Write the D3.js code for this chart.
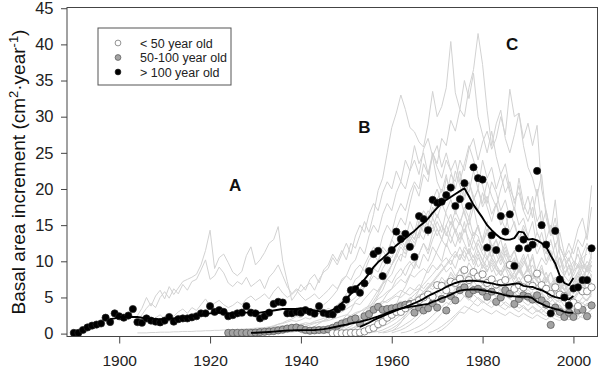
<!DOCTYPE html>
<html><head><meta charset="utf-8">
<script src="https://cdn.jsdelivr.net/npm/d3@7"></script>
<style>body{margin:0;background:#fff} svg{display:block;font-family:Arial,"Liberation Sans",sans-serif}</style>
</head><body><svg id="chart" width="600" height="373"></svg>
<script>
// ---------- data ----------
// class mean basal area increment (dots), one value per year
const oldStart = 1890; // > 100 year old
const oldValues = [0.1,0.1,0.5,0.85,1.1,1.25,1.4,2.2,1.6,2.8,
 2.4,2.2,2.5,3.4,1.6,1.5,2.1,1.8,1.65,1.55,
 1.8,2.3,1.65,2.0,2.1,2.1,2.25,2.4,2.8,2.8,
 3.8,3.0,3.25,3.0,2.4,2.55,2.8,2.9,3.8,2.9,
 2.8,2.1,2.4,2.9,4.1,4.4,4.3,2.8,2.8,3.0,
 2.9,3.25,3.0,2.75,3.8,2.85,2.7,2.65,3.35,3.7,
 4.7,6.0,6.15,5.65,6.95,8.65,11.0,11.45,7.95,10.15,
 11.55,14.1,13.1,13.8,12.0,10.6,16.25,15.85,14.3,18.5,
 18.1,18.25,19.15,20.2,17.65,18.6,20.8,17.65,23.0,21.5,
 21.3,11.9,13.6,11.55,16.25,14.1,16.5,9.35,11.8,13.0,
 11.8,12.3,22.5,15.0,12.3,2.8,14.2,7.5,5.0,3.9,
 6.25,6.4,7.4,7.4,11.8];
const midStart = 1924; // 50-100 year old
const midValues = [0.1,0.1,0.1,0.1,0.1,0.1,0.15,0.2,0.25,0.3,
 0.35,0.45,0.55,0.7,0.8,0.85,0.7,0.5,0.4,0.45,
 0.5,0.5,0.6,0.8,1.1,1.4,1.6,1.9,2.1,1.4,
 2.4,2.7,3.3,3.7,3.3,3.4,3.5,3.6,3.8,4.0,
 4.1,2.9,3.6,3.2,3.5,4.2,3.6,4.8,3.2,5.2,
 4.6,6.0,6.4,5.5,6.0,6.2,5.8,5.1,5.8,4.4,
 5.0,6.0,5.5,4.1,4.8,5.3,5.1,4.7,5.3,4.6,
 4.0,1.2,3.6,3.0,2.3,2.9,2.3,3.2,3.3,2.4,3.9];
const youngStart = 1947; // < 50 year old
const youngValues = [0.05,0.05,0.05,0.05,0.1,0.1,0.15,0.3,0.6,0.8,
 1.3,1.6,2.2,2.6,3.0,3.0,3.5,3.9,4.2,4.6,
 5.0,5.4,5.1,6.7,6.6,6.0,7.2,7.0,7.6,8.8,
 7.4,8.5,7.9,8.2,7.0,7.5,6.8,7.0,7.4,9.5,
 6.2,6.7,6.4,7.6,6.6,8.3,6.7,6.2,5.5,6.4,
 5.4,5.2,4.5,4.3,3.8,5.85,5.85,6.4];

// smoothed class curves
const oldCurveStart = 1898;
const oldCurve = [2.0,2.1,2.3,2.3,2.3,2.3,2.3,2.2,2.1,2.1,
 2.0,2.0,2.0,2.1,2.1,2.2,2.2,2.3,2.4,2.5,
 2.6,2.7,2.8,2.9,2.9,2.9,2.8,2.8,2.8,2.9,
 2.9,2.9,2.9,2.9,3.0,3.1,3.2,3.3,3.4,3.4,
 3.4,3.4,3.5,3.4,3.3,3.2,3.1,3.0,3.0,3.3,
 3.6,4.2,4.8,5.5,6.3,6.9,7.5,8.3,9.2,9.9,
 10.4,11.0,11.6,12.2,12.7,13.2,13.7,14.2,14.8,15.3,
 15.9,16.7,17.4,18.0,18.5,18.9,19.3,19.7,20.1,19.0,
 17.8,16.9,16.0,15.0,14.3,13.7,13.2,13.0,13.0,13.2,
 14.1,14.0,13.0,13.1,12.9,12.5,12.0,10.8,9.7,8.0,
 7.0,6.7,7.7];
const midCurveStart = 1929;
const midCurve = [0.1,0.12,0.15,0.18,0.22,0.27,0.33,0.38,0.42,0.45,
 0.47,0.48,0.48,0.48,0.5,0.55,0.62,0.72,0.85,0.98,
 1.12,1.25,1.4,1.52,1.63,1.8,1.98,2.17,2.37,2.6,
 2.85,3.1,3.3,3.45,3.6,3.7,3.8,3.9,4.0,4.1,
 4.4,4.6,4.9,5.1,5.4,5.7,5.95,6.05,6.1,6.1,
 6.1,6.0,5.9,5.75,5.65,5.5,5.3,5.2,5.15,5.1,
 5.1,5.1,4.9,4.4,4.1,3.8,3.6,3.4,3.25,3.0,
 2.88,2.9];
const youngCurveStart = 1953;
const youngCurve = [0.94,1.2,1.5,1.85,2.15,2.4,2.7,2.95,3.2,3.45,
 3.7,3.95,4.2,4.5,4.8,5.2,5.5,5.8,6.1,6.45,
 6.75,7.0,7.2,7.26,7.3,7.3,7.26,7.2,7.05,6.94,
 6.8,6.7,6.7,6.8,6.9,6.94,6.6,6.5,6.45,6.2,
 6.0,5.7,5.3,5.05,4.9,4.85,4.73,5.2];

// individual trees (grey lines)
const tree01 = [2.5,3.5,5.0,3.8,5.2,6.0,4.8,6.5,5.4,6.3,7.2,7.5,7.8,8.2,9.5,11.5,14.3,9.0,10.5,11.0,
 9.8,8.5,8.0,8.6,10.8,12.0,9.5,10.2,11.2,12.5,13.0,14.8,10.0,7.2,4.6,5.5,6.8,6.0,7.5,8.2,
 7.0,8.8,9.5,11.0,10.0,11.5,10.2,12.5,11.8,13.6,15.5,14.0,16.5,19.8,21.5,25.0,28.5,30.5,33.0,31.0,
 28.5,27.9,26.5,25.8,29.0,33.5,30.0,31.4,34.0,40.4,33.3,31.0,35.0,32.5,36.0,30.0,27.5,25.0,28.0,24.5,
 22.0,23.5,20.0,18.5,19.5,17.0,15.5,17.5,14.0,12.5,13.0,11.0,9.5,10.5,8.5,9.0,10.0,9.5,8.0,9.0,10.5];
const tree02 = [1.8,2.6,3.5,4.2,3.6,5.0,5.8,4.9,6.2,5.5,6.8,6.0,7.2,7.5,8.8,10.2,7.5,8.0,9.2,8.4,
 7.0,6.5,7.2,6.8,7.8,6.5,7.0,7.5,6.2,7.8,8.5,9.5,8.0,6.5,5.5,6.2,5.8,6.5,7.0,6.0,
 7.5,8.5,9.0,10.5,9.5,11.0,12.5,11.0,13.5,15.0,14.0,16.5,18.0,17.0,19.5,21.0,20.0,22.5,21.0,24.0,
 22.5,26.0,23.5,25.0,22.0,24.5,21.0,19.5,22.0,18.5,17.0,19.0,16.5,15.0,17.5,14.5,13.0,15.5,12.0,11.5,
 13.0,10.5,9.0,10.0,8.5,9.5,11.0,8.0,9.0,10.5,9.5,11.0,10.0,12.0,10.5,11.5,10.0,9.0,10.5,11.0];
const tree03 = [0.1,0.1,0.1,0.15,0.15,0.2,0.2,0.2,0.25,0.25,0.3,0.3,0.3,0.35,0.35,0.4,0.4,0.45,0.45,0.5,
 0.5,0.55,0.6,0.6,0.65,0.7,0.75,0.8,0.85,0.9,0.95,1.0,1.1,1.0,1.15,1.2,1.3,1.25,1.4,1.5,
 1.6,1.7,1.8,2.0,2.2,2.4,2.6,2.5,2.9,3.1,3.3,3.6,3.9,4.1,4.5,4.3,4.8,5.2,5.0,5.6,
 5.3,5.9,6.2,5.8,6.5,6.1,6.8,6.4,7.0,6.6,7.2,6.8,6.2,7.0,6.5,6.0,6.8,6.2,5.7,6.4,
 5.9,5.4,6.1,5.6,5.1,5.8,5.3,4.8,5.5,5.0,4.6,5.2,4.7,4.3,4.9,4.4,4.0,4.6,4.2,4.8,5.2];
const tree04 = [1.0,1.4,1.8,1.5,2.2,2.6,2.0,2.8,2.4,3.0,3.4,2.8,3.6,3.2,4.0,4.8,3.8,4.2,4.6,4.0,
 3.6,3.9,4.4,4.0,4.8,5.2,4.6,5.0,5.5,4.8,5.8,6.5,5.6,5.0,5.4,6.0,5.2,4.6,5.0,5.5,
 4.8,5.4,6.0,6.8,6.2,7.2,8.0,7.4,8.8,9.5,8.6,10.2,11.0,10.0,12.0,11.2,13.0,12.0,14.2,13.0,
 15.5,14.0,16.5,15.0,13.5,16.0,14.5,13.0,15.0,13.5,12.0,14.0,12.5,11.0,13.0,11.5,10.0,12.0,10.5,9.5,
 11.0,9.8,8.8,10.2,9.0,8.0,9.2,8.2,7.5,8.6,7.6,6.8,7.8,6.6,6.0,7.0,6.2,7.2,6.5,7.8,7.0];
const tree05 = [0.5,0.8,1.2,1.8,2.5,3.2,4.5,5.0,6.5,7.2,8.8,10.0,11.5,10.5,13.0,14.5,16.0,15.0,18.0,20.5,
 19.0,22.0,21.0,25.0,23.5,27.0,26.0,29.5,28.0,31.0,30.0,34.0,36.5,41.5,37.2,30.9,26.0,29.0,30.9,27.0,
 25.0,27.5,30.5,26.0,23.0,21.5,19.0,22.0,16.0,13.5,15.0,11.0,9.0,10.5,8.5,12.0,10.0,8.5,9.5];
const tree06 = [0.3,0.6,1.0,1.5,2.2,3.0,4.0,5.2,6.0,7.5,8.2,9.8,11.0,10.5,12.8,14.0,13.2,15.5,17.0,16.0,
 18.5,20.0,19.0,22.0,21.0,24.0,22.5,25.5,27.0,24.0,26.5,28.0,25.5,27.0,30.0,27.5,33.8,30.0,30.5,27.0,
 29.1,26.0,28.8,20.0,17.0,14.0,18.5,12.0,10.5,8.0,9.5,11.0,9.0,12.0,10.5];
const tree07 = [0.2,0.4,0.6,0.8,1.0,1.3,1.5,1.8,2.0,2.4,2.2,2.8,3.0,3.5,3.2,4.0,4.5,5.2,6.0,7.5,
 8.0,9.5,10.2,12.0,11.0,13.5,15.0,14.0,16.5,18.0,17.0,19.5,21.0,20.0,22.5,24.0,22.0,25.5,27.0,24.5,
 26.0,23.0,25.0,22.5,24.0,21.0,23.5,26.0,24.0,22.0,20.5,18.0,21.0,19.5,17.0,18.5,16.0,17.5,15.0,16.0,
 13.5,15.5,12.0,14.0,11.5,10.0,12.5,9.0,8.0,9.5,7.5,8.5,10.0,9.0,11.0];
const tree08 = [0.3,0.5,0.8,1.0,1.4,1.8,2.3,3.0,3.8,4.5,5.5,6.2,7.5,8.0,9.5,10.8,12.0,11.0,13.5,15.0,
 14.0,16.5,18.0,17.0,19.5,21.0,20.0,23.5,22.0,25.0,23.0,21.5,24.0,22.5,20.0,22.5,19.0,21.0,18.5,20.0,
 17.5,19.0,16.5,18.0,15.0,16.5,14.0,15.5,13.0,14.5,12.0,13.0,11.0,12.5,10.0,11.5,9.0,10.5,8.0,9.5,
 7.0,8.0,9.5,8.5,10.0];
const tree09 = [0.2,0.5,0.9,1.5,2.2,3.0,4.0,5.5,6.5,8.0,9.5,11.0,12.5,11.5,14.0,15.5,14.0,17.0,18.5,16.5,
 19.0,21.0,19.5,22.5,20.0,24.0,21.5,23.0,20.0,22.0,19.5,21.0,18.0,20.5,17.0,19.0,16.0,20.0,15.0,17.0,
 13.5,16.0,12.0,10.5,12.5,11.0,13.0,12.0,14.0,20.5];
const tree10 = [0.3,0.8,1.5,2.5,3.5,4.8,6.0,7.5,9.0,10.0,11.5,13.0,12.0,14.5,16.0,15.0,17.5,16.0,18.5,20.0,
 18.0,21.0,19.0,17.5,20.0,22.0,19.5,17.0,21.5,18.0,16.5,19.0,15.5,17.0,13.0,15.0,12.0,14.0,11.0,10.0,
 12.0,14.5,16.0,13.0,17.5];
const tree11 = [0.2,0.4,0.7,1.0,1.5,2.0,2.8,3.5,4.5,5.5,6.8,8.0,9.5,11.0,10.0,12.5,14.0,13.0,15.5,17.0,
 16.0,18.5,20.0,18.0,21.5,19.5,22.5,20.5,18.5,21.0,19.0,17.0,19.5,17.5,15.5,18.0,16.0,14.5,17.0,15.0,
 13.0,15.0,13.5,12.0,14.0,12.5,11.0,13.0,10.5,9.0,10.5,9.5,8.0,9.5,11.0,12.5,11.0];
const tree12 = [0.1,0.2,0.3,0.3,0.4,0.5,0.6,0.7,0.8,0.9,1.1,1.3,1.4,1.6,1.8,1.7,1.9,2.2,2.0,2.5,
 2.8,3.0,3.5,3.2,4.0,4.5,5.0,5.8,6.5,6.0,7.5,8.2,9.0,8.5,10.0,11.0,10.5,12.0,13.0,12.0,
 14.0,13.0,15.5,14.0,16.0,15.0,13.5,15.0,14.0,12.5,14.5,13.0,15.5,12.0,14.0,13.5,11.5,12.5,10.5,12.0,
 10.0,11.5,9.5,10.5,8.5,10.0,9.0,11.0,8.0,9.5,7.0,8.5,6.5,7.5,6.0,7.0,5.5,6.5,7.5,6.0,8.0];
const tree13 = [0.1,0.1,0.2,0.2,0.3,0.3,0.4,0.5,0.5,0.6,0.7,0.8,0.9,1.0,1.2,1.1,1.3,1.5,1.4,1.7,
 1.9,2.1,2.4,2.2,2.8,3.0,3.4,3.8,4.2,4.0,4.8,5.5,6.2,5.8,6.8,7.5,7.0,8.2,9.0,8.0,
 9.5,10.0,9.0,11.0,10.0,12.0,11.0,10.0,12.5,11.0,10.5,12.0,10.5,11.5,9.5,11.0,9.0,10.5,8.5,9.5,
 8.0,9.0,7.5,8.5,7.0,8.0,6.5,7.5,6.0,7.0,5.5,6.5,5.0,6.0,4.5,5.5,4.8,6.0,5.2,4.5,5.8];
const tree14 = [0.1,0.1,0.2,0.2,0.3,0.4,0.4,0.5,0.6,0.7,0.8,0.9,1.0,1.2,1.4,1.6,1.8,2.0,2.4,2.8,
 3.2,3.8,4.5,5.0,5.8,6.5,7.0,8.0,7.5,9.0,10.0,9.5,11.0,12.5,11.5,13.5,12.5,14.0,16.0,15.0,
 17.5,16.0,18.0,16.5,15.0,17.0,15.5,14.0,16.0,13.5,15.0,12.5,14.5,12.0,13.0,11.0,12.5,10.5,11.5,9.5,
 11.0,9.0,10.5,8.0,9.0,7.5,8.5,7.0,6.0,7.5,6.0,7.0,8.5,7.5,9.0,8.0];
const tree15 = [0.1,0.2,0.3,0.5,0.7,1.0,1.4,1.9,2.5,3.2,4.0,5.0,6.0,7.0,8.5,9.5,10.5,12.0,11.0,13.0,
 12.0,14.0,13.0,15.0,14.5,16.5,15.0,13.5,15.5,14.0,12.5,14.5,13.0,11.5,13.0,12.0,10.5,12.0,11.0,9.5,
 11.0,10.0,8.5,9.5,8.0,9.0,7.5,8.5,7.0,6.0,7.0,5.5,6.5,5.0,6.0,4.5,5.5,7.0,6.0,7.5];
const tree16 = [0.2,0.4,0.7,1.1,1.6,2.2,3.0,3.8,4.5,5.5,6.2,7.5,8.0,9.2,10.0,9.0,11.0,12.5,11.0,13.0,
 14.5,13.0,15.0,16.5,14.0,15.5,17.0,14.5,13.0,15.0,12.5,14.0,11.5,13.0,10.5,12.0,10.0,11.5,9.0,10.5,
 8.5,9.5,8.0,7.0,8.5,6.5,7.5,6.0,7.0,5.5,6.5,8.0,7.0,9.5,8.5];
const tree17 = [0.1,0.1,0.2,0.2,0.3,0.3,0.4,0.5,0.6,0.7,0.8,1.0,1.2,1.4,1.7,2.0,2.3,2.7,3.0,3.5,
 3.8,4.2,4.8,5.2,5.8,6.2,6.8,7.5,7.0,8.2,7.8,8.5,9.0,8.4,9.5,8.8,9.6,8.5,9.2,8.0,
 8.8,7.5,8.4,7.2,8.0,6.8,7.5,6.5,7.2,6.0,6.8,5.8,6.5,5.5,6.0,5.2,5.8,4.8,5.5,4.5,
 5.0,4.2,4.8,3.8,4.5,3.5,4.2,5.0,4.5,5.5];
const tree18 = [0.1,0.1,0.2,0.2,0.3,0.4,0.5,0.6,0.8,1.0,1.2,1.5,1.8,2.2,2.5,3.0,3.4,3.8,4.2,4.6,
 5.0,5.5,6.0,5.6,6.4,6.0,6.8,6.2,7.0,6.5,7.2,6.6,7.4,6.8,6.2,7.0,6.4,5.8,6.6,6.0,
 5.5,6.2,5.6,5.0,5.8,5.2,4.8,5.4,4.6,5.0,4.4,4.8,4.0,4.5,3.8,4.2,3.5,4.0,3.2,3.8,
 3.0,3.6,4.2,3.8,4.5];
const tree19 = [0.1,0.1,0.2,0.3,0.4,0.5,0.7,0.9,1.1,1.4,1.7,2.0,2.4,2.8,3.2,3.6,4.0,4.5,4.2,5.0,
 4.6,5.4,5.0,5.8,5.3,6.0,5.5,6.2,5.6,5.0,5.8,5.2,4.6,5.4,4.8,4.2,5.0,4.4,3.8,4.6,
 4.0,3.6,4.2,3.5,3.9,3.2,3.7,3.0,3.4,2.8,3.2,2.6,3.0,2.4,2.8,2.2,2.6,3.2,2.8,3.4];
const tree20 = [0.1,0.2,0.3,0.4,0.6,0.8,1.1,1.4,1.8,2.2,2.6,3.1,3.6,4.2,4.8,5.4,6.0,6.8,7.5,8.2,
 9.0,9.8,10.5,9.5,11.0,10.2,11.5,10.0,10.8,9.2,10.0,8.8,9.5,8.0,8.8,7.5,8.2,7.0,7.8,6.5,
 7.2,6.0,6.8,5.5,6.2,5.0,5.8,4.8,5.4,4.2,5.0,5.6,6.5,5.8,7.0];
const tree21 = [0.1,0.2,0.3,0.5,0.7,1.0,1.3,1.7,2.1,2.6,3.1,3.7,4.3,5.0,5.6,6.2,6.8,6.2,7.2,6.6,
 7.5,6.8,7.8,7.0,6.4,7.2,6.5,5.8,6.6,6.0,5.4,6.2,5.5,5.0,5.7,5.1,4.6,5.3,4.7,4.2,
 4.8,4.1,3.6,4.3,3.8,3.3,3.9,3.4,3.0,3.6,4.2,3.8];
const tree22 = [0.1,0.2,0.3,0.5,0.8,1.1,1.5,2.0,2.6,3.2,3.9,4.6,5.4,6.2,7.0,7.8,8.6,9.4,10.2,9.0,
 11.0,10.0,11.8,10.5,12.5,11.0,10.2,11.5,9.8,10.8,9.2,10.0,8.5,9.5,8.0,8.8,7.5,8.5,7.0,7.8,
 6.5,7.2,6.0,6.8,5.5,6.2,7.0,6.5,7.5,8.2];
const tree23 = [0.1,0.2,0.4,0.6,0.9,1.3,1.7,2.2,2.8,3.4,4.0,4.6,5.2,5.0,5.8,5.4,6.2,5.8,6.5,6.0,
 5.5,6.2,5.6,5.0,5.8,5.2,4.7,5.4,4.8,4.3,5.0,4.4,3.9,4.5,4.0,3.5,4.1,3.6,3.1,3.7,
 3.2,2.8,3.3,2.9,3.5,4.0,3.6];
const tree24 = [0.1,0.3,0.5,0.8,1.2,1.7,2.3,3.0,3.8,4.6,5.5,6.4,7.3,8.2,7.5,9.0,8.2,9.8,8.8,10.5,
 9.5,8.6,9.8,8.8,8.0,9.2,8.3,7.5,8.6,7.7,7.0,8.0,7.2,6.5,7.5,6.8,6.0,7.0,6.2,5.5,
 6.5,7.5,8.8,7.8,9.5];
const tree25 = [0.1,0.2,0.4,0.7,1.0,1.4,1.9,2.5,3.1,3.7,4.3,4.0,4.8,4.4,5.2,4.8,4.3,5.0,4.5,4.0,
 4.7,4.2,3.8,4.4,3.9,3.5,4.1,3.6,3.2,3.8,3.3,2.9,3.5,3.0,2.6,3.2,2.7,2.3,2.9,2.5,
 3.1,2.7,3.3];
const tree26 = [0.1,0.3,0.6,1.0,1.5,2.1,2.8,3.6,4.5,5.4,6.4,7.3,8.2,9.0,8.0,9.5,8.5,10.2,9.0,8.0,
 9.4,8.4,7.5,8.8,7.8,7.0,8.2,7.2,6.4,7.5,6.6,5.8,6.8,6.0,5.2,6.2,7.2,6.4,7.8,6.8];
const tree27 = [0.1,0.3,0.6,1.0,1.5,2.0,2.6,3.2,3.8,3.5,4.2,3.8,4.5,4.0,3.6,4.2,3.7,3.3,3.9,3.4,
 3.0,3.6,3.1,2.7,3.2,2.8,2.4,2.9,2.5,2.2,2.7,2.3,2.0,2.5,2.2,2.8,2.4];
const tree28 = [0.1,0.2,0.4,0.7,1.1,1.6,2.2,2.9,3.7,4.5,5.4,6.3,7.2,6.5,7.8,7.0,8.5,7.6,9.0,8.0,
 7.2,8.4,7.5,6.8,7.8,7.0,6.2,7.2,6.4,5.8,6.6,5.9,5.3,6.1,5.4,4.8,5.6,5.0,4.4,5.2,
 4.6,5.4,6.2,5.5,6.8,6.0,7.2,6.5];
const tree29 = [0.2,0.5,1.0,1.6,2.3,3.0,2.8,3.5,3.2,2.9,3.4,3.0,2.7,3.2,2.8,2.5,3.0,2.6,2.3,2.8,
 2.4,2.1,2.6,2.2,1.9,2.4,2.0,1.8,2.2,1.9,2.3,2.0,2.6,2.2,2.8];
const tree30 = [0.1,0.2,0.3,0.5,0.7,1.0,1.3,1.7,2.1,2.5,3.0,3.5,4.0,4.6,5.2,5.8,6.5,7.2,8.0,8.8,
 9.6,10.5,11.4,10.2,12.0,11.0,10.0,11.5,10.2,9.2,10.5,9.5,8.5,9.8,8.8,7.8,9.0,8.0,7.2,8.3,
 7.4,6.6,7.6,6.8,6.0,7.0,8.0,7.2,8.6,9.5,8.8,10.0,9.2];
const treeStartYears = [1904,1904,1904,1904,1946,1950,1930,1940,1955,1960,1948,1924,1924,1929,
 1945,1950,1935,1940,1945,1950,1953,1955,1958,1960,1962,1965,1968,1957,1970,1952];
const treeValues = [tree01,tree02,tree03,tree04,tree05,tree06,tree07,tree08,tree09,tree10,tree11,
 tree12,tree13,tree14,tree15,tree16,tree17,tree18,tree19,tree20,tree21,tree22,tree23,tree24,tree25,
 tree26,tree27,tree28,tree29,tree30];

const yMajorTicks = [0,5,10,15,20,25,30,35,40,45];
const xMajorTicks = [1900,1920,1940,1960,1980,2000];
const legendLabels = ["< 50 year old","50-100 year old","> 100 year old"];
const periodLabels = [{t:"A",year:1925.5,v:19.7},{t:"B",year:1954,v:27.7},{t:"C",year:1986.5,v:39.2}];

// ---------- drawing ----------
const svg = d3.select("#chart");
const L=67, R=597.5, T=7.5, B=336.5;
const x = d3.scaleLinear().domain([1888.5,2005.3]).range([L,R]);
const y = d3.scaleLinear().domain([-0.4,45.1]).range([B,T]);
const pts = (start, vals) => vals.map((v,i)=>({year:start+i, v}));
const line = d3.line().x(d=>x(d.year)).y(d=>y(d.v));

svg.append("defs").append("clipPath").attr("id","plot")
  .append("rect").attr("x",L).attr("y",T).attr("width",R-L).attr("height",B-T);

const plot = svg.append("g").attr("clip-path","url(#plot)");

// grey tree lines
plot.append("g").selectAll("path").data(treeValues.map((v,i)=>pts(treeStartYears[i],v)))
  .join("path").attr("d",line).attr("fill","none").attr("stroke","#d2d2d2").attr("stroke-width",1);

// dots
const r = 3.6;
plot.append("g").selectAll("circle").data(pts(midStart,midValues)).join("circle")
  .attr("cx",d=>x(d.year)).attr("cy",d=>y(d.v)).attr("r",r)
  .attr("fill","#a3a3a3").attr("stroke","#555").attr("stroke-width",0.7);
plot.append("g").selectAll("circle").data(pts(youngStart,youngValues)).join("circle")
  .attr("cx",d=>x(d.year)).attr("cy",d=>y(d.v)).attr("r",r)
  .attr("fill","#fff").attr("stroke","#666").attr("stroke-width",0.7);
plot.append("g").selectAll("circle").data(pts(oldStart,oldValues)).join("circle")
  .attr("cx",d=>x(d.year)).attr("cy",d=>y(d.v)).attr("r",r)
  .attr("fill","#000").attr("stroke","#222").attr("stroke-width",0.7);

// smoothed curves
[[midCurveStart,midCurve],[youngCurveStart,youngCurve],[oldCurveStart,oldCurve]].forEach(([s,v])=>{
  plot.append("path").datum(pts(s,v)).attr("d",line).attr("fill","none")
    .attr("stroke","#000").attr("stroke-width",1.9).attr("stroke-linejoin","round");
});

// frame
svg.append("rect").attr("x",L).attr("y",T).attr("width",R-L).attr("height",B-T)
  .attr("fill","none").attr("stroke","#444").attr("stroke-width",1);

// y axis
const gy = svg.append("g").attr("transform",`translate(${L},0)`);
gy.call(d3.axisLeft(y).tickValues(d3.range(0,46,1)).tickSize(4).tickFormat(""));
gy.call(d3.axisLeft(y).tickValues(yMajorTicks).tickSize(6).tickPadding(7.5).tickFormat(d3.format("d")));
gy.selectAll(".domain").remove();
gy.selectAll("line").attr("stroke","#444");
gy.selectAll("text").attr("font-size",16.5).attr("fill","#222").attr("font-family","Arial, 'Liberation Sans', sans-serif");

// x axis
const gx = svg.append("g").attr("transform",`translate(0,${B})`);
gx.call(d3.axisBottom(x).tickValues(d3.range(1890,2005,2)).tickSize(4).tickFormat(""));
gx.call(d3.axisBottom(x).tickValues(xMajorTicks).tickSize(7).tickPadding(11).tickFormat(d3.format("d")));
gx.selectAll(".domain").remove();
gx.selectAll("line").attr("stroke","#444");
gx.selectAll("text").attr("font-size",15.5).attr("fill","#222").attr("font-family","Arial, 'Liberation Sans', sans-serif");

// y title
const yt = svg.append("text").attr("transform","translate(25,172) rotate(-90)")
  .attr("text-anchor","middle").attr("font-size",19).attr("fill","#111");
yt.append("tspan").text("Basal area increment (cm");
yt.append("tspan").attr("dy",-7).attr("font-size",13).text("2");
yt.append("tspan").attr("dy",7).text("·year");
yt.append("tspan").attr("dy",-7).attr("font-size",13).text("-1");
yt.append("tspan").attr("dy",7).text(")");

// period letters
svg.append("g").selectAll("text").data(periodLabels).join("text")
  .attr("x",d=>x(d.year)).attr("y",d=>y(d.v)).attr("text-anchor","middle")
  .attr("font-size",17).attr("font-weight","bold").attr("fill","#111").text(d=>d.t);

// legend
const lg = svg.append("g");
lg.append("rect").attr("x",98).attr("y",28).attr("width",133).attr("height",57)
  .attr("fill","#fff").attr("stroke","#555").attr("stroke-width",1);
const legStyles = [{f:"#fff",s:"#666"},{f:"#a3a3a3",s:"#555"},{f:"#000",s:"#222"}];
legendLabels.forEach((t,i)=>{
  const cy = 43 + i*14.5;
  lg.append("circle").attr("cx",118).attr("cy",cy).attr("r",2.9)
    .attr("fill",legStyles[i].f).attr("stroke",legStyles[i].s).attr("stroke-width",0.7);
  lg.append("text").attr("x",140).attr("y",cy+4.5).attr("font-size",12.5).attr("fill","#222").text(t);
});
</script></body></html>
